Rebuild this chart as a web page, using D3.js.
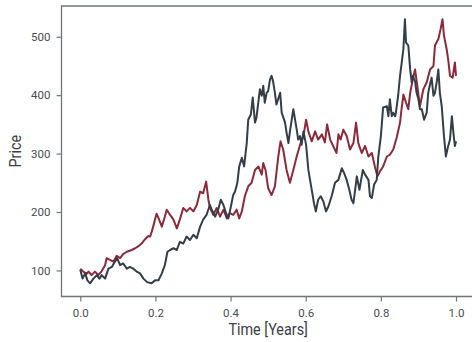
<!DOCTYPE html>
<html>
<head>
<meta charset="utf-8">
<script src="https://cdn.jsdelivr.net/npm/d3@7"></script>
<style>
  html, body { margin: 0; padding: 0; background: #fff; }
  svg { display: block; }
  text { font-family: Roboto, "Liberation Sans", sans-serif; }
</style>
</head>
<body>
<svg id="chart" width="472" height="342"></svg>
<script>
// Two simulated price paths over one year
const redTime = [0.000,0.008,0.017,0.022,0.030,0.039,0.048,0.057,0.066,0.070,0.079,0.088,0.097,0.106,0.114,0.124,0.137,0.146,0.154,0.163,0.172,0.181,0.186,0.190,0.194,0.203,0.208,0.217,0.225,0.230,0.239,0.248,0.257,0.265,0.274,0.283,0.292,0.301,0.310,0.319,0.327,0.335,0.341,0.345,0.354,0.363,0.372,0.381,0.390,0.398,0.407,0.416,0.423,0.430,0.438,0.447,0.456,0.465,0.474,0.483,0.487,0.493,0.500,0.509,0.518,0.527,0.533,0.540,0.549,0.558,0.567,0.576,0.585,0.594,0.601,0.607,0.616,0.625,0.633,0.643,0.651,0.657,0.665,0.673,0.682,0.687,0.693,0.700,0.709,0.718,0.727,0.734,0.740,0.749,0.758,0.767,0.776,0.784,0.791,0.798,0.806,0.816,0.824,0.833,0.842,0.851,0.855,0.860,0.867,0.873,0.878,0.885,0.891,0.897,0.904,0.913,0.922,0.931,0.940,0.944,0.953,0.959,0.964,0.968,0.975,0.979,0.984,0.991,0.997,1.000];
const redPrice = [103,98,94,98,92,98,92,99,109,121,118,115,125,121,128,132,135,138,141,146,153,159,158,166,175,197,190,175,192,204,195,187,172,187,207,201,207,201,212,235,232,252,221,207,195,207,192,204,189,198,195,204,189,201,227,244,250,272,278,264,284,272,241,229,244,295,321,307,272,250,272,295,315,330,358,338,321,338,324,333,319,350,324,313,301,333,324,341,330,307,318,353,318,301,313,295,301,278,261,270,278,295,298,307,327,353,376,401,387,376,404,427,444,416,381,410,422,444,450,485,496,513,530,502,479,462,433,430,456,433];

const darkTime = [0.000,0.006,0.013,0.019,0.026,0.035,0.044,0.051,0.057,0.066,0.075,0.084,0.092,0.098,0.106,0.114,0.124,0.132,0.141,0.150,0.159,0.168,0.178,0.190,0.199,0.208,0.217,0.225,0.232,0.239,0.248,0.257,0.265,0.274,0.283,0.292,0.301,0.310,0.319,0.327,0.336,0.345,0.350,0.359,0.367,0.374,0.381,0.388,0.394,0.400,0.407,0.412,0.418,0.423,0.430,0.436,0.443,0.447,0.454,0.459,0.465,0.469,0.478,0.483,0.487,0.491,0.496,0.500,0.505,0.509,0.513,0.518,0.522,0.532,0.536,0.545,0.549,0.554,0.558,0.567,0.576,0.580,0.585,0.589,0.594,0.601,0.607,0.616,0.622,0.627,0.633,0.640,0.647,0.654,0.660,0.669,0.678,0.687,0.696,0.702,0.709,0.716,0.722,0.727,0.736,0.743,0.752,0.758,0.767,0.771,0.776,0.782,0.789,0.793,0.800,0.806,0.816,0.820,0.824,0.829,0.833,0.838,0.840,0.846,0.851,0.855,0.860,0.864,0.867,0.873,0.878,0.882,0.885,0.891,0.895,0.900,0.904,0.909,0.915,0.922,0.926,0.931,0.935,0.940,0.944,0.949,0.953,0.957,0.962,0.968,0.973,0.978,0.984,0.989,0.993,0.997,1.000];
const darkPrice = [101,86,95,83,78,86,92,86,92,86,103,106,115,121,109,112,103,106,103,98,95,86,80,78,83,83,95,109,132,135,138,135,149,146,158,152,161,155,175,187,195,212,204,192,204,221,212,198,189,207,229,235,250,278,293,278,318,358,367,396,353,362,410,399,416,387,404,407,427,433,424,404,384,404,370,353,336,318,338,376,341,324,330,315,338,315,272,238,215,201,221,227,218,201,209,227,250,255,275,267,255,238,221,215,261,238,272,264,255,227,224,247,255,293,330,379,381,364,393,364,370,364,370,399,433,453,479,530,490,485,444,422,433,424,404,393,376,376,358,370,404,419,430,399,404,424,444,404,381,330,295,310,324,364,336,313,321];

const xTicks = [0.0, 0.2, 0.4, 0.6, 0.8, 1.0];
const yTicks = [100, 200, 300, 400, 500];
const xLabel = "Time [Years]";
const yLabel = "Price";

const seriesColors = { red: "#8c2a3a", dark: "#343e48" };

const svg = d3.select("#chart");
const W = 472, H = 342;
const plot = { left: 61.5, right: 474.8, top: 6, bottom: 296.5 };

// Axis limits padded by 5% on each side
const allPrices = redPrice.concat(darkPrice);
const pMin = d3.min(allPrices), pMax = d3.max(allPrices);
const pPad = (pMax - pMin) * 0.05;

const x = d3.scaleLinear().domain([-0.05, 1.05]).range([plot.left, plot.right]);
const y = d3.scaleLinear().domain([pMin - pPad, pMax + pPad]).range([plot.bottom, plot.top]);

const spineColor = "#71767b";
const tickTextColor = "#4a4d52";

// Price paths
const line = d3.line().x(d => x(d[0])).y(d => y(d[1]));
const redData = d3.zip(redTime, redPrice);
const darkData = d3.zip(darkTime, darkPrice);

svg.append("path").datum(redData)
  .attr("d", line).attr("fill", "none")
  .attr("stroke", seriesColors.red).attr("stroke-width", 2)
  .attr("stroke-linejoin", "round");
svg.append("path").datum(darkData)
  .attr("d", line).attr("fill", "none")
  .attr("stroke", seriesColors.dark).attr("stroke-width", 2)
  .attr("stroke-linejoin", "round");

// Axes
const xAxis = svg.append("g")
  .attr("transform", `translate(0,${plot.bottom})`)
  .call(d3.axisBottom(x).tickValues(xTicks).tickFormat(d3.format(".1f")).tickSize(5).tickPadding(7));
const yAxis = svg.append("g")
  .attr("transform", `translate(${plot.left},0)`)
  .call(d3.axisLeft(y).tickValues(yTicks).tickFormat(d3.format("d")).tickSize(5).tickPadding(6));

[xAxis, yAxis].forEach(g => {
  g.select(".domain").remove();
  g.selectAll(".tick line").attr("stroke", spineColor).attr("stroke-width", 1.2);
  g.selectAll(".tick text").attr("fill", tickTextColor)
    .style("font-size", "11.5px").style("font-family", "Roboto, sans-serif");
});

// Frame: left, top and bottom spines
svg.append("path")
  .attr("d", `M${plot.right},${plot.top}H${plot.left}V${plot.bottom}H${plot.right}`)
  .attr("fill", "none").attr("stroke", spineColor).attr("stroke-width", 1.3);

// Axis titles
svg.append("g")
  .attr("transform", `translate(${(plot.left + plot.right) / 2},${335}) scale(0.9,1)`)
  .append("text")
  .attr("text-anchor", "middle")
  .attr("fill", "#3d4046")
  .style("font-size", "16px")
  .text(xLabel);

svg.append("g")
  .attr("transform", `translate(${21},${(plot.top + plot.bottom) / 2}) rotate(-90) scale(0.9,1)`)
  .append("text")
  .attr("text-anchor", "middle")
  .attr("fill", "#3d4046")
  .style("font-size", "16px")
  .text(yLabel);
</script>
</body>
</html>
